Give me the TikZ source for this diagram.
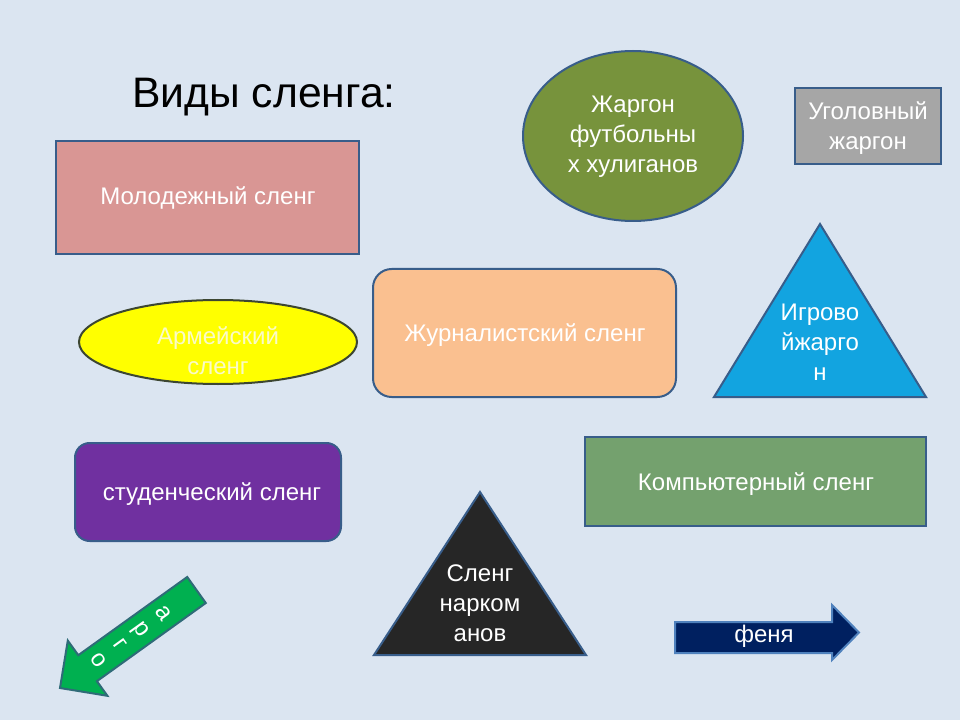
\documentclass[tikz,border=0pt]{standalone}
\usepackage{fontspec}
\setmainfont{Liberation Sans}
\usetikzlibrary{shapes.geometric}
\definecolor{bg}{HTML}{DBE5F1}
\definecolor{edge}{HTML}{385D8A}
\definecolor{pinkf}{HTML}{D99694}
\definecolor{olivef}{HTML}{77933C}
\definecolor{greyf}{HTML}{A6A6A6}
\definecolor{yellowf}{HTML}{FFFF00}
\definecolor{yedge}{HTML}{3C4632}
\definecolor{ytext}{HTML}{FAFAC8}
\definecolor{orangef}{HTML}{FAC090}
\definecolor{bluef}{HTML}{12A4E0}
\definecolor{purplef}{HTML}{7030A0}
\definecolor{compf}{HTML}{74A16E}
\definecolor{blackf}{HTML}{262626}
\definecolor{arrowg}{HTML}{00B050}
\definecolor{arrowgedge}{HTML}{2F6B78}
\definecolor{navyf}{HTML}{002060}
\definecolor{navyedge}{HTML}{4F81BD}
\tikzset{
  shapeedge/.style={draw=edge, line width=1.5pt},
  label18/.style={text=white, align=center, inner sep=0pt,
    font=\fontsize{18}{22.5}\selectfont},
}
\begin{document}
\begin{tikzpicture}[x=0.75pt,y=-0.75pt]
\useasboundingbox (0,0) rectangle (960,720);
\fill[bg] (0,0) rectangle (960,720);

% title
\node[anchor=base west, inner sep=0pt, font=\fontsize{32}{38}\selectfont] (title) at (132,108) {Виды сленга:};

% Молодежный сленг
\draw[shapeedge, fill=pinkf] (56,141) rectangle (359,254);
\node[label18] (mol) at (208,198) {Молодежный сленг};

% Жаргон футбольных хулиганов
\draw[shapeedge, fill=olivef] (633,136) ellipse [x radius=110, y radius=85];
\node[label18] (foot) at (633,137) {Жаргон\\футбольны\\х хулиганов};

% Уголовный жаргон
\draw[shapeedge, fill=greyf] (795,88) rectangle (941,164);
\node[label18] (ugol) at (868,128) {Уголовный\\жаргон};

% Армейский сленг
\draw[draw=yedge, line width=1.5pt, fill=yellowf] (218,342) ellipse [x radius=139, y radius=42];
\node[label18, text=ytext] (arm) at (218,351) {Армейский\\сленг};

% Журналистский сленг
\draw[shapeedge, fill=orangef, rounded corners=14pt] (373,269) rectangle (676,397);
\node[label18] (zhur) at (525,335) {Журналистский сленг};

% Игровой жаргон
\draw[shapeedge, fill=bluef] (820,224) -- (926,397) -- (714,397) -- cycle;
\node[label18] (igr) at (820,342) {Игрово\\йжарго\\н};

% студенческий сленг
\draw[shapeedge, fill=purplef, rounded corners=11pt] (75,443) rectangle (341,541);
\node[label18] (stud) at (212,494) {студенческий сленг};

% Компьютерный сленг
\draw[shapeedge, fill=compf] (585,437) rectangle (926,526);
\node[label18] (comp) at (756,484) {Компьютерный сленг};

% Сленг наркоманов
\draw[shapeedge, fill=blackf] (480,492) -- (586,655) -- (374,655) -- cycle;
\node[label18] (nark) at (480,603) {Сленг\\нарком\\анов};

% арго arrow
\draw[draw=arrowgedge, line width=1.5pt, fill=arrowg, line join=miter]
  (187.2,577) -- (78.3,655.2) -- (67.8,640.6) -- (60,688) -- (107.4,695.8)
  -- (96.9,681.2) -- (205.8,603) -- cycle;
\node[label18, rotate=-54.3, font=\fontsize{18}{20}\selectfont] (argo) at (131,637) {а\\р\\г\\о};

% феня arrow
\draw[draw=navyedge, line width=1.5pt, fill=navyf, line join=miter]
  (675,622) -- (832,622) -- (832,605) -- (859,632.5) -- (832,660)
  -- (832,653) -- (675,653) -- cycle;
\node[label18] (fenya) at (764,636) {феня};
\end{tikzpicture}
\end{document}
